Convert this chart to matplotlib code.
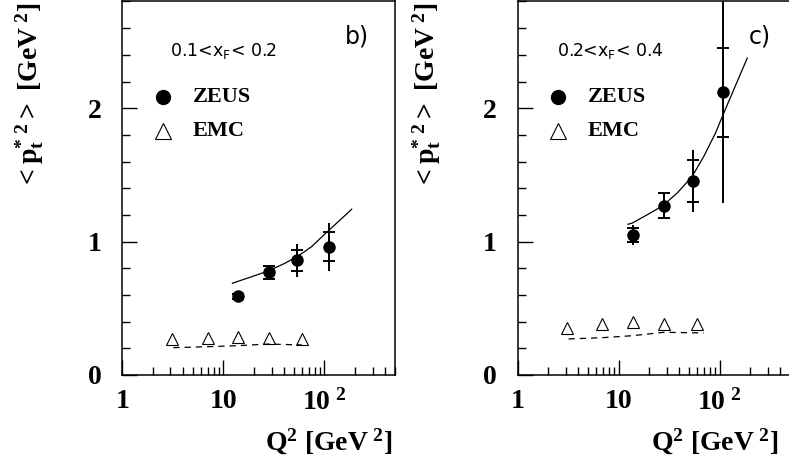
import numpy as np
import matplotlib
matplotlib.use("Agg")
import matplotlib.pyplot as plt
from matplotlib.ticker import FixedLocator, MultipleLocator, LogLocator, NullFormatter

plt.rcParams['mathtext.fontset'] = 'custom'
plt.rcParams['mathtext.rm'] = 'Liberation Serif:bold'
plt.rcParams['mathtext.bf'] = 'Liberation Serif:bold'
plt.rcParams['mathtext.it'] = 'Liberation Serif:bold'

# panel b) 0.1 < xF < 0.2
zeus_q2_b = [14, 28, 54, 110]
zeus_pt_b = [0.59, 0.77, 0.86, 0.962]
zeus_stat_b = [0.02, 0.05, 0.08, 0.107]
zeus_tot_b = [0.02, 0.05, 0.125, 0.18]
emc_q2_b = [3.1, 7.0, 14, 28, 60]
emc_pt_b = [0.268, 0.275, 0.285, 0.278, 0.268]
emcfit_q2_b = [3.2, 7.0, 14, 28, 60]
emcfit_pt_b = [0.205, 0.212, 0.22, 0.232, 0.225]
fit_q2_b = [12.3, 19.1, 27.9, 40.8, 55.3, 75, 105.6, 137.6, 186.6]
fit_pt_b = [0.688, 0.737, 0.78, 0.838, 0.893, 0.963, 1.07, 1.15, 1.243]

# panel c) 0.2 < xF < 0.4
zeus_q2_c = [14, 28, 54, 108]
zeus_pt_c = [1.05, 1.27, 1.455, 2.12]
zeus_stat_c = [0.055, 0.095, 0.155, 0.335]
zeus_tot_c = [0.075, 0.095, 0.235, 0.83]
emc_q2_c = [3.08, 6.9, 14, 28, 60]
emc_pt_c = [0.35, 0.383, 0.395, 0.383, 0.383]
emcfit_q2_c = [3.2, 7.0, 14, 28, 70]
emcfit_pt_c = [0.27, 0.28, 0.295, 0.32, 0.315]
fit_q2_c = [12.4, 13.6, 19.1, 27.3, 37.9, 53.5, 69.7, 91, 110, 138, 188]
fit_pt_c = [1.13, 1.138, 1.2, 1.268, 1.363, 1.488, 1.638, 1.813, 1.963, 2.138, 2.376]

panels = [
    dict(pos=[0.155, 0.1953, 0.3456, 0.8015], tag='b)', rng=r'0.1<x$_\mathsf{F}$< 0.2',
         zq=zeus_q2_b, zp=zeus_pt_b, zs=zeus_stat_b, zt=zeus_tot_b,
         eq=emc_q2_b, ep=emc_pt_b, dq=emcfit_q2_b, dp=emcfit_pt_b,
         fq=fit_q2_b, fp=fit_pt_b, ylx=30, xlx=392, rx=0.175, tx=0.818),
    dict(pos=[0.6559, 0.1953, 0.3456, 0.8015], tag='c)', rng=r'0.2<x$_\mathsf{F}$< 0.4',
         zq=zeus_q2_c, zp=zeus_pt_c, zs=zeus_stat_c, zt=zeus_tot_c,
         eq=emc_q2_c, ep=emc_pt_c, dq=emcfit_q2_c, dp=emcfit_pt_c,
         fq=fit_q2_c, fp=fit_pt_c, ylx=427, xlx=778, rx=0.145, tx=0.847),
]

W, H = 789, 466
fig = plt.figure(figsize=(7.89, 4.66), dpi=100)

for p in panels:
    ax = fig.add_axes(p['pos'])
    ax.set_xscale('log')
    ax.set_xlim(1, 500)
    ax.set_ylim(0, 2.8)

    ax.errorbar(p['zq'], p['zp'], yerr=p['zt'], fmt='none', ecolor='k', elinewidth=1.4, capsize=0)
    ax.errorbar(p['zq'], p['zp'], yerr=p['zs'], fmt='o', color='k', ms=8,
                elinewidth=1.4, capsize=4, capthick=1.4)
    ax.plot(p['eq'], p['ep'], '^', ms=9, mfc='white', mec='k', mew=0.8, ls='none')
    ax.plot(p['dq'], p['dp'], color='k', lw=0.9, dashes=(5, 4))
    ax.plot(p['fq'], p['fp'], color='k', lw=0.9)

    for s in ['top', 'right', 'left', 'bottom']:
        ax.spines[s].set_linewidth(1.1)
    ax.tick_params(which='both', direction='in', top=False, right=False)
    ax.tick_params(axis='y', which='major', length=11, width=1.0, pad=15)
    ax.tick_params(axis='y', which='minor', length=6, width=1.0)
    ax.tick_params(axis='x', which='major', length=11, width=1.0, pad=10)
    ax.tick_params(axis='x', which='minor', length=6, width=1.0)
    ax.yaxis.set_major_locator(FixedLocator([0, 1, 2]))
    ax.yaxis.set_minor_locator(MultipleLocator(0.2))
    ax.set_yticklabels(['0', '1', '2'], fontfamily='Liberation Serif', fontweight='bold', fontsize=20)
    ax.xaxis.set_major_locator(FixedLocator([1, 10, 100]))
    ax.xaxis.set_minor_locator(LogLocator(base=10, subs=np.arange(2, 10)))
    ax.xaxis.set_minor_formatter(NullFormatter())
    ax.set_xticklabels(['1', '10', r'$\mathbf{10^{\ 2}}$'], fontfamily='Liberation Serif',
                       fontweight='bold', fontsize=20)

    # annotations
    ax.text(p['rx'], 0.867, p['rng'], transform=ax.transAxes,
            fontsize=12.5, va='center', ha='left', family='DejaVu Sans', math_fontfamily='dejavusans')
    ax.text(p['tx'], 0.905, p['tag'], transform=ax.transAxes,
            fontsize=17, va='center', ha='left', family='DejaVu Sans')
    lx = 0.148
    ax.plot([lx], [0.744], 'o', color='k', ms=10, transform=ax.transAxes, clip_on=False)
    ax.plot([lx], [0.652], '^', ms=11, mfc='white', mec='k', mew=0.8, transform=ax.transAxes)
    ax.text(0.258, 0.744, 'ZEUS', transform=ax.transAxes, fontsize=16, fontweight='bold',
            family='Liberation Serif', va='center', ha='left')
    ax.text(0.258, 0.652, 'EMC', transform=ax.transAxes, fontsize=16, fontweight='bold',
            family='Liberation Serif', va='center', ha='left')

    fig.text(p['ylx'] / W, 1 - 3 / H, r'$<\mathbf{p_t^{*\ 2}}>$ [GeV$^{\ 2}$]', rotation=90,
             ha='center', va='top', fontsize=20, fontweight='bold', family='Liberation Serif')
    fig.text(p['xlx'] / W, 1 - 442 / H, r'$\mathbf{Q^2}$ [GeV$^{\ 2}$]', ha='right', va='center',
             fontsize=20, fontweight='bold', family='Liberation Serif')

fig.savefig('out.png', dpi=100)
